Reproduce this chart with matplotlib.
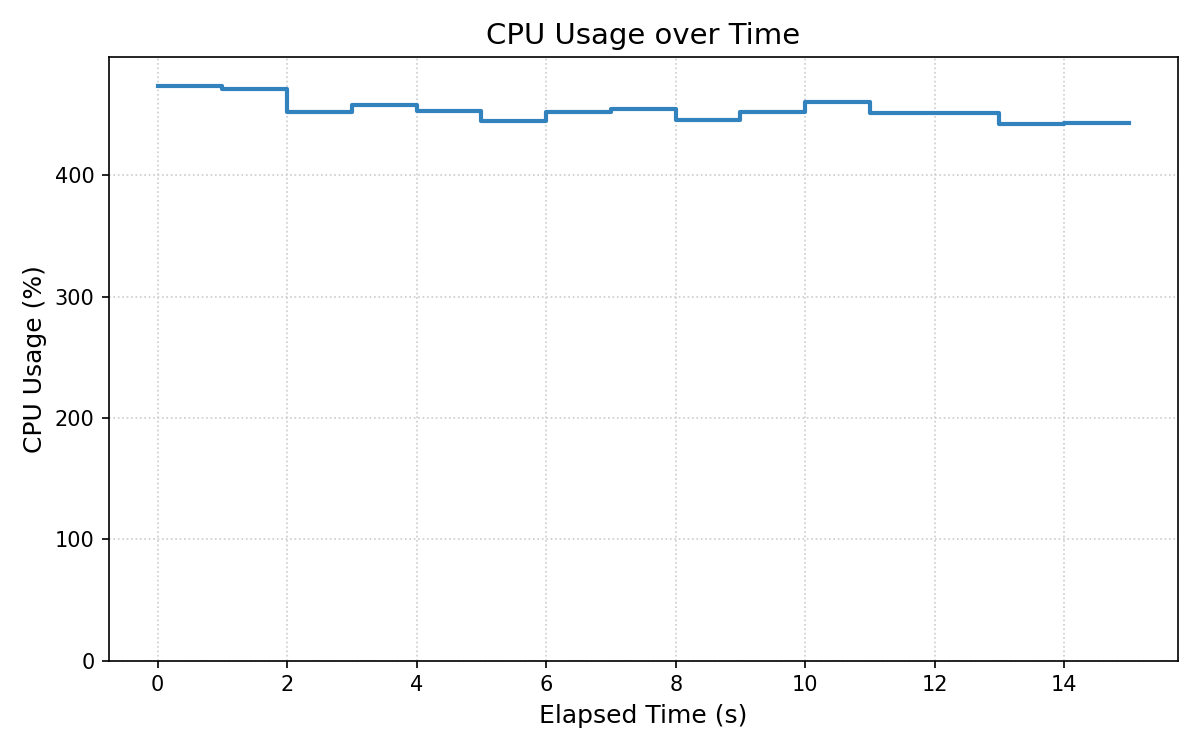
import numpy as np
import matplotlib.pyplot as plt

# elapsed seconds and sampled cpu usage
elapsed = np.arange(0, 16)
cpu = np.array([473.8, 471.3, 452.3, 458.1, 453.1, 444.9, 452.3, 454.5,
                445.7, 452.1, 460.3, 451.5, 451.5, 442.4, 443.2, 443.2])

fig, ax = plt.subplots(figsize=(8, 5), dpi=150)

ax.step(elapsed, cpu, where="post", color="#3182bd", linewidth=2)

ax.set_ylim(0, cpu.max() * 1.05)
ax.set_title("CPU Usage over Time", fontsize=14)
ax.set_xlabel("Elapsed Time (s)", fontsize=12)
ax.set_ylabel("CPU Usage (%)", fontsize=12)
ax.grid(True, linestyle=":", color="#cccccc", linewidth=0.8)

plt.tight_layout()
plt.savefig("out.png")
